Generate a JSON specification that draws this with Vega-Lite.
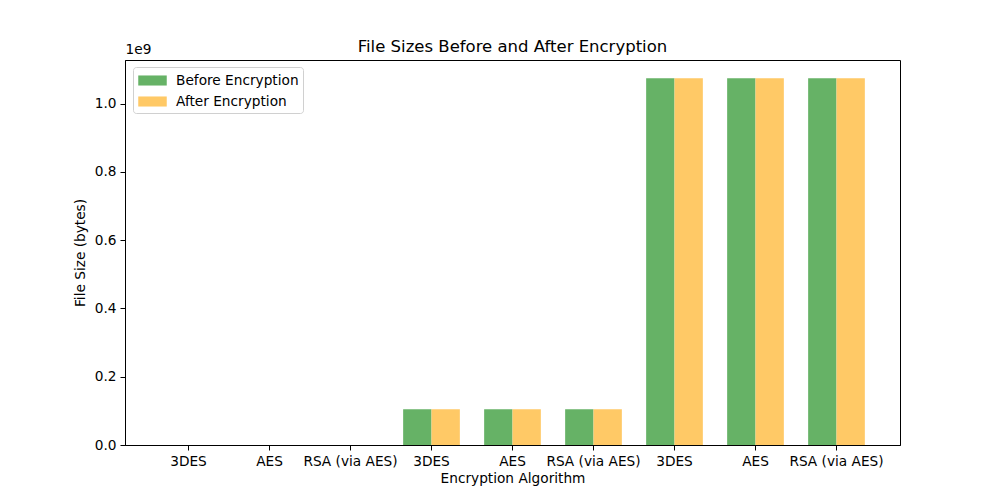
{
  "$schema": "https://vega.github.io/schema/vega-lite/v6.json",
  "width": 775,
  "height": 385,
  "autosize": "none",
  "padding": {"left": 125, "top": 60, "right": 100, "bottom": 55},
  "background": "white",
  "config": {
    "font": "DejaVu Sans",
    "view": {"stroke": "black", "strokeWidth": 1},
    "axis": {
      "grid": false,
      "domainColor": "black",
      "tickColor": "black",
      "labelColor": "black",
      "titleColor": "black",
      "labelFontSize": 13.7,
      "titleFontSize": 13.7,
      "titleFontWeight": "normal",
      "tickSize": 5,
      "labelPadding": 4
    }
  },
  "title": {
    "text": "File Sizes Before and After Encryption",
    "fontSize": 16.5,
    "fontWeight": "normal",
    "color": "black",
    "offset": -13
  },
  "data": {
    "values": [
      {"file": "3DES@1KB", "stage": "Before Encryption", "bytes": 1024},
      {"file": "3DES@1KB", "stage": "After Encryption", "bytes": 1032},
      {"file": "AES@1KB", "stage": "Before Encryption", "bytes": 1024},
      {"file": "AES@1KB", "stage": "After Encryption", "bytes": 1040},
      {"file": "RSA (via AES)@1KB", "stage": "Before Encryption", "bytes": 1024},
      {"file": "RSA (via AES)@1KB", "stage": "After Encryption", "bytes": 1296},
      {"file": "3DES@100MB", "stage": "Before Encryption", "bytes": 104857600},
      {"file": "3DES@100MB", "stage": "After Encryption", "bytes": 104857608},
      {"file": "AES@100MB", "stage": "Before Encryption", "bytes": 104857600},
      {"file": "AES@100MB", "stage": "After Encryption", "bytes": 104857616},
      {"file": "RSA (via AES)@100MB", "stage": "Before Encryption", "bytes": 104857600},
      {"file": "RSA (via AES)@100MB", "stage": "After Encryption", "bytes": 104857872},
      {"file": "3DES@1GB", "stage": "Before Encryption", "bytes": 1073741824},
      {"file": "3DES@1GB", "stage": "After Encryption", "bytes": 1073741832},
      {"file": "AES@1GB", "stage": "Before Encryption", "bytes": 1073741824},
      {"file": "AES@1GB", "stage": "After Encryption", "bytes": 1073741840},
      {"file": "RSA (via AES)@1GB", "stage": "Before Encryption", "bytes": 1073741824},
      {"file": "RSA (via AES)@1GB", "stage": "After Encryption", "bytes": 1073742096}
    ]
  },
  "layer": [
    {
      "mark": {"type": "bar"},
      "encoding": {
        "x": {
          "field": "file",
          "type": "nominal",
          "sort": null,
          "scale": {"paddingInner": 0.3, "paddingOuter": 0.434},
          "axis": {
            "title": "Encryption Algorithm",
            "labelAngle": 0,
            "labelExpr": "split(datum.value, '@')[0]",
            "titlePadding": 4
          }
        },
        "xOffset": {
          "field": "stage",
          "type": "nominal",
          "sort": ["Before Encryption", "After Encryption"],
          "scale": {"paddingInner": 0, "paddingOuter": 0}
        },
        "y": {
          "field": "bytes",
          "type": "quantitative",
          "scale": {"domain": [0, 1127429000], "nice": false, "zero": true},
          "axis": {
            "title": "1e9",
            "titleAngle": 0,
            "titleX": 0,
            "titleY": -4,
            "titleAlign": "left",
            "titleBaseline": "bottom",
            "values": [0, 200000000, 400000000, 600000000, 800000000, 1000000000],
            "labelExpr": "format(datum.value / 1e9, '.1f')"
          }
        },
        "color": {
          "field": "stage",
          "type": "nominal",
          "sort": ["Before Encryption", "After Encryption"],
          "scale": {"domain": ["Before Encryption", "After Encryption"], "range": ["#66b266", "#ffc966"]},
          "legend": {
            "title": null,
            "orient": "none",
            "legendX": 8,
            "legendY": 7,
            "strokeColor": "#d0d0d0",
            "fillColor": "white",
            "cornerRadius": 3,
            "padding": 4,
            "labelFontSize": 13.7,
            "labelColor": "black",
            "symbolType": "M-1.5,-0.53H1.5V0.53H-1.5Z",
            "symbolSize": 361,
            "symbolStrokeWidth": 0,
            "symbolOffset": 6,
            "labelOffset": 14,
            "rowPadding": 4
          }
        }
      }
    },
    {
      "mark": {"type": "bar", "opacity": 0},
      "encoding": {
        "x": {"field": "file", "type": "nominal", "sort": null},
        "xOffset": {
          "field": "stage",
          "type": "nominal",
          "sort": ["Before Encryption", "After Encryption"]
        },
        "y": {
          "field": "bytes",
          "type": "quantitative",
          "axis": {
            "orient": "left",
            "title": "File Size (bytes)",
            "labels": false,
            "ticks": false,
            "domain": false,
            "titlePadding": 0,
            "offset": 38
          }
        }
      }
    }
  ],
  "resolve": {"axis": {"y": "independent"}}
}
